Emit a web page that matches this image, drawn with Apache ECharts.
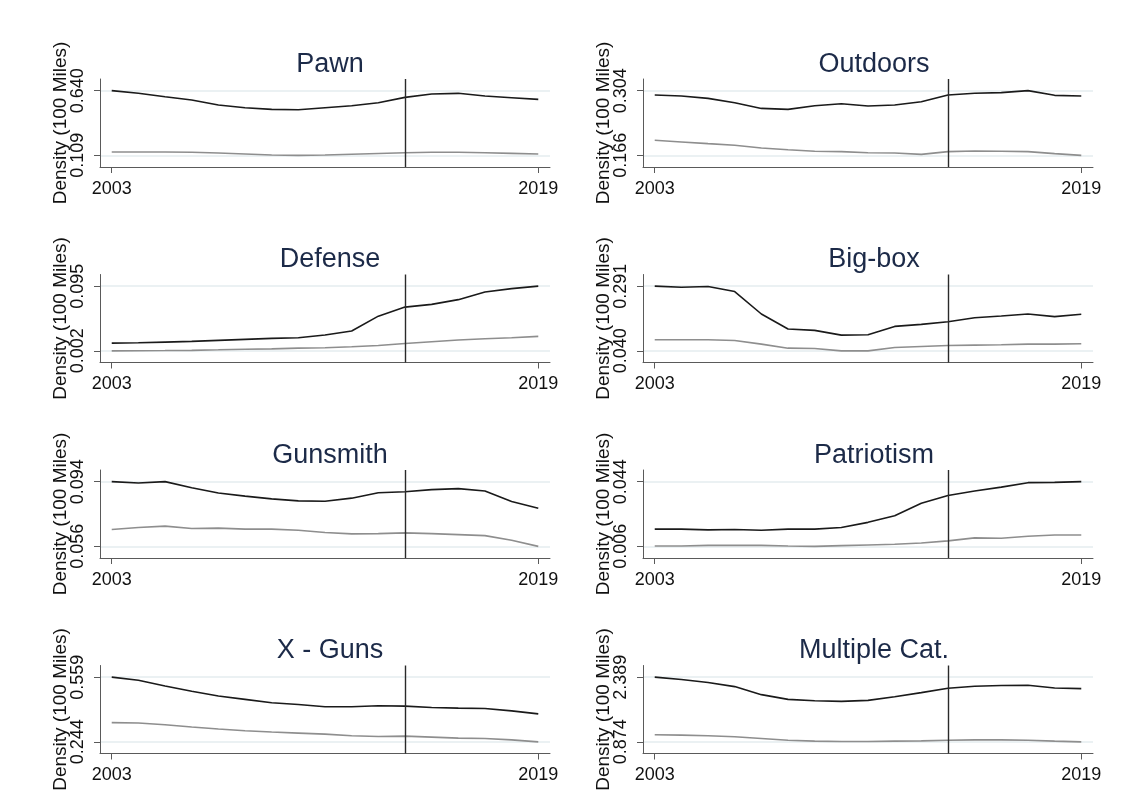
<!DOCTYPE html>
<html>
<head>
<meta charset="utf-8">
<script src="https://cdn.jsdelivr.net/npm/echarts@6/dist/echarts.min.js"></script>
<style>
  html, body { margin: 0; padding: 0; background: #ffffff; }
  #chart { width: 1127px; height: 810px; }
</style>
</head>
<body>
<div id="chart"></div>
<script>
// Annual observations
const years = [2003, 2004, 2005, 2006, 2007, 2008, 2009, 2010, 2011, 2012, 2013, 2014, 2015, 2016, 2017, 2018, 2019];
const xTicks = [2003, 2019];
const eventYear = 2014;
const yTitle = 'Density (100 Miles)';

const titles = ['Pawn', 'Outdoors', 'Defense', 'Big-box', 'Gunsmith', 'Patriotism', 'X - Guns', 'Multiple Cat.'];

// Labelled y ticks per panel: [low, high]
const yTicks = [
  [0.109, 0.640],
  [0.166, 0.304],
  [0.002, 0.095],
  [0.040, 0.291],
  [0.056, 0.094],
  [0.006, 0.044],
  [0.244, 0.559],
  [0.874, 2.389]
];

// Dark line per panel
const pawnDark       = [0.640, 0.618, 0.590, 0.563, 0.522, 0.500, 0.486, 0.483, 0.500, 0.516, 0.541, 0.585, 0.612, 0.618, 0.596, 0.582, 0.568];
const outdoorsDark   = [0.2947, 0.2926, 0.2876, 0.2783, 0.2661, 0.2640, 0.2718, 0.2761, 0.2711, 0.2733, 0.2804, 0.2947, 0.2983, 0.2997, 0.304, 0.294, 0.2926];
const defenseDark    = [0.0131, 0.0136, 0.0146, 0.0156, 0.0170, 0.0185, 0.0199, 0.0209, 0.0247, 0.0306, 0.0519, 0.0649, 0.0688, 0.0756, 0.0867, 0.0915, 0.095];
const bigboxDark     = [0.291, 0.287, 0.2896, 0.270, 0.183, 0.1245, 0.1193, 0.1011, 0.1024, 0.1349, 0.1427, 0.1531, 0.1687, 0.1752, 0.183, 0.1726, 0.1817];
const gunsmithDark   = [0.094, 0.0932, 0.094, 0.0904, 0.0873, 0.0855, 0.0839, 0.0827, 0.0825, 0.0843, 0.0875, 0.0881, 0.0893, 0.0899, 0.0885, 0.0823, 0.0784];
const patriotismDark = [0.0161, 0.0161, 0.0157, 0.0159, 0.0155, 0.0161, 0.0161, 0.0171, 0.0201, 0.024, 0.0313, 0.0359, 0.0385, 0.0408, 0.0434, 0.0436, 0.044];
const xgunsDark      = [0.559, 0.544, 0.5163, 0.490, 0.467, 0.4506, 0.4342, 0.426, 0.4146, 0.4146, 0.4195, 0.4178, 0.4113, 0.408, 0.4064, 0.3949, 0.3801];
const multipleDark   = [2.389, 2.334, 2.263, 2.168, 1.979, 1.868, 1.837, 1.821, 1.845, 1.931, 2.026, 2.129, 2.176, 2.192, 2.200, 2.136, 2.121];

// Light line per panel
const pawnLight       = [0.136, 0.136, 0.136, 0.134, 0.128, 0.120, 0.112, 0.109, 0.112, 0.118, 0.124, 0.130, 0.134, 0.134, 0.130, 0.125, 0.120];
const outdoorsLight   = [0.1982, 0.1946, 0.191, 0.1875, 0.1817, 0.178, 0.1746, 0.1739, 0.1717, 0.171, 0.168, 0.1739, 0.1753, 0.1746, 0.1739, 0.1696, 0.166];
const defenseLight    = [0.002, 0.0022, 0.0024, 0.0027, 0.0035, 0.0044, 0.0049, 0.0059, 0.0064, 0.0078, 0.0097, 0.0126, 0.0151, 0.0175, 0.0194, 0.0209, 0.0228];
const bigboxLight     = [0.0829, 0.0829, 0.0829, 0.0803, 0.066, 0.0504, 0.0491, 0.040, 0.040, 0.053, 0.0569, 0.0608, 0.0621, 0.0634, 0.066, 0.066, 0.0673];
const gunsmithLight   = [0.0659, 0.0671, 0.0679, 0.0665, 0.0667, 0.0661, 0.0661, 0.0655, 0.0641, 0.0633, 0.0635, 0.0639, 0.0635, 0.0629, 0.0623, 0.0596, 0.056];
const patriotismLight = [0.0062, 0.0062, 0.0066, 0.0066, 0.0066, 0.0062, 0.006, 0.0064, 0.0068, 0.0072, 0.008, 0.0092, 0.011, 0.0108, 0.0119, 0.0127, 0.0127];
const xgunsLight      = [0.3375, 0.3358, 0.3276, 0.3162, 0.3063, 0.2981, 0.2916, 0.2866, 0.2817, 0.2735, 0.2702, 0.2719, 0.267, 0.262, 0.2604, 0.2538, 0.244];
const multipleLight   = [1.040, 1.032, 1.016, 0.992, 0.953, 0.913, 0.890, 0.882, 0.882, 0.890, 0.898, 0.913, 0.921, 0.921, 0.913, 0.890, 0.874];

const darkLines  = [pawnDark, outdoorsDark, defenseDark, bigboxDark, gunsmithDark, patriotismDark, xgunsDark, multipleDark];
const lightLines = [pawnLight, outdoorsLight, defenseLight, bigboxLight, gunsmithLight, patriotismLight, xgunsLight, multipleLight];

// Panel geometry (2 columns x 4 rows)
const colLeft = [100, 643];
const titleCenter = [325, 869];
const plotWidth = 450;
const plotHeight = 88;
const rowStep = 195.5;
const firstTop = 79;

const FONT = '"Liberation Sans", Arial, sans-serif';
const axisColor = '#5a5a5a';
const gridColor = '#e4edef';

const chart = echarts.init(document.getElementById('chart'), null, { renderer: 'canvas' });

const grid = [], xAxis = [], yAxis = [], series = [], title = [];

titles.forEach((name, i) => {
  const col = i % 2;
  const row = Math.floor(i / 2);
  const top = firstTop + rowStep * row;
  const [lo, hi] = yTicks[i];
  const pad = 0.18 * (hi - lo);

  grid.push({ left: colLeft[col], top: top, width: plotWidth, height: plotHeight, containLabel: false });

  title.push({
    text: name,
    left: titleCenter[col],
    top: top - 33,
    textAlign: 'center',
    textStyle: { fontFamily: FONT, fontSize: 27, fontWeight: 'normal', color: '#1c2a48' }
  });

  xAxis.push({
    type: 'value',
    gridIndex: i,
    min: 2002.56,
    max: 2019.44,
    axisLine: { show: true, onZero: false, lineStyle: { color: axisColor, width: 1 } },
    axisTick: { show: true, customValues: xTicks, length: 6, lineStyle: { color: axisColor, width: 1 } },
    axisLabel: {
      show: true, customValues: xTicks, margin: 13,
      formatter: v => String(Math.round(v)),
      fontFamily: FONT, fontSize: 18, color: '#111111'
    },
    splitLine: { show: false }
  });

  yAxis.push({
    type: 'value',
    gridIndex: i,
    min: lo - pad,
    max: hi + pad,
    name: yTitle,
    nameLocation: 'middle',
    nameGap: 30,
    nameMoveOverlap: false,
    nameTextStyle: { fontFamily: FONT, fontSize: 19, color: '#111111' },
    axisLine: { show: true, onZero: false, lineStyle: { color: axisColor, width: 1 } },
    axisTick: { show: true, customValues: [lo, hi], length: 6, lineStyle: { color: axisColor, width: 1 } },
    axisLabel: {
      show: true, customValues: [lo, hi], rotate: 90, margin: 13,
      formatter: v => v.toFixed(3),
      fontFamily: FONT, fontSize: 18, color: '#111111'
    },
    splitLine: { show: true, lineStyle: { color: gridColor, width: 1.5 } }
  });

  series.push({
    type: 'line',
    xAxisIndex: i,
    yAxisIndex: i,
    data: years.map((y, k) => [y, lightLines[i][k]]),
    symbol: 'none',
    z: 3,
    lineStyle: { color: '#8e8e8e', width: 1.6 }
  });

  series.push({
    type: 'line',
    xAxisIndex: i,
    yAxisIndex: i,
    data: years.map((y, k) => [y, darkLines[i][k]]),
    symbol: 'none',
    z: 4,
    lineStyle: { color: '#1a1a1a', width: 1.6 },
    markLine: {
      silent: true,
      symbol: ['none', 'none'],
      label: { show: false },
      lineStyle: { color: '#2a2a2a', width: 1.4, type: 'solid' },
      data: [{ xAxis: eventYear }]
    }
  });
});

chart.setOption({
  animation: false,
  backgroundColor: '#ffffff',
  title: title,
  grid: grid,
  xAxis: xAxis,
  yAxis: yAxis,
  series: series
});
</script>
</body>
</html>
